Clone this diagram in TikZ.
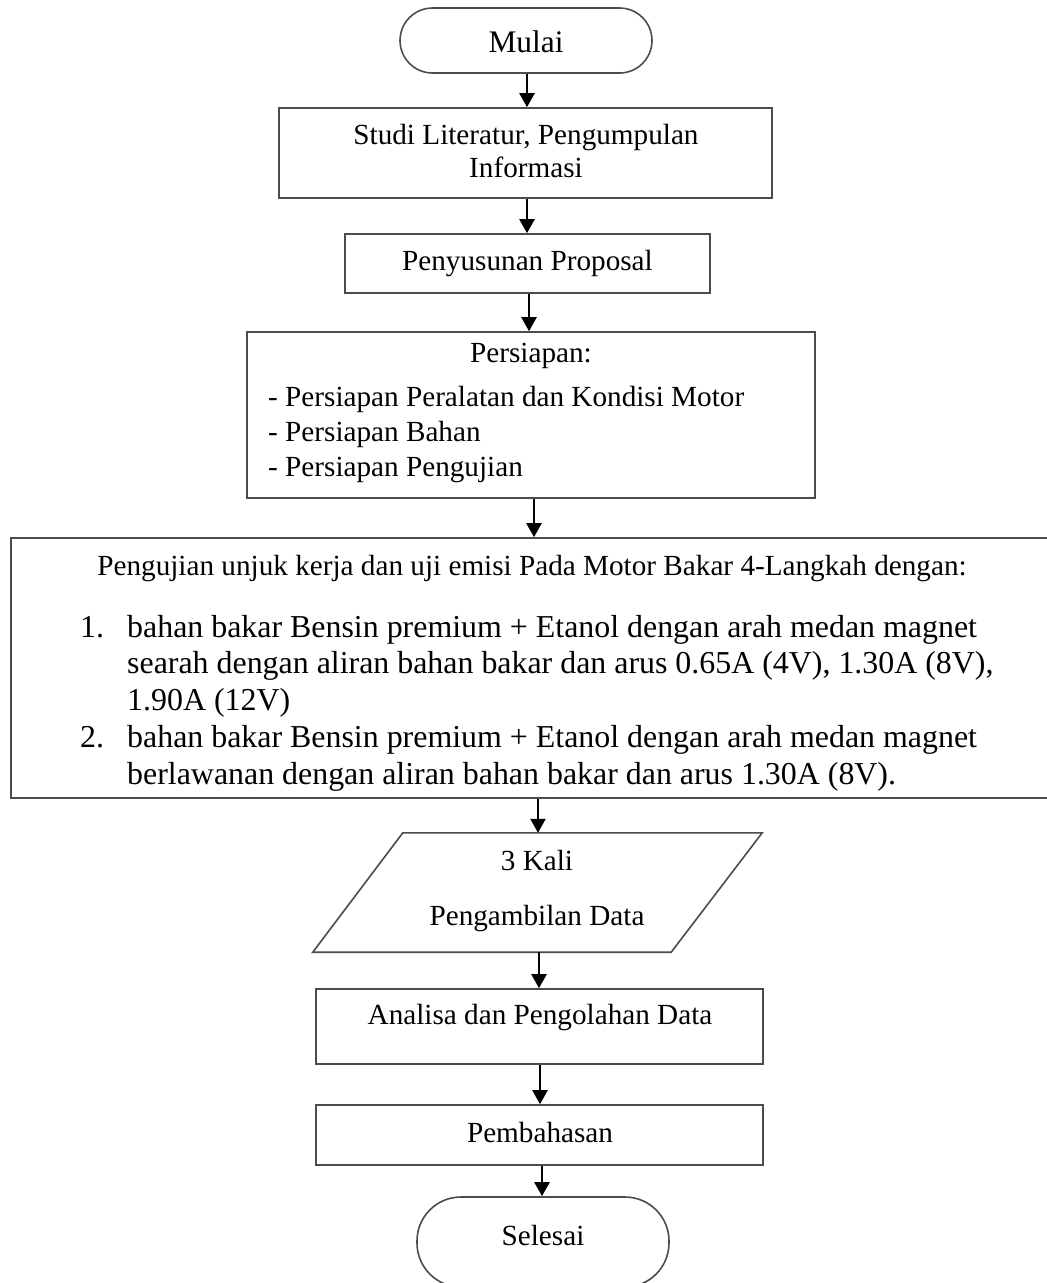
\documentclass[tikz,border=0pt]{standalone}
\usepackage{fontspec}
\setmainfont{Liberation Serif}
\usetikzlibrary{arrows.meta}
\begin{document}
\begin{tikzpicture}[x=1pt,y=-1pt,
  box/.style={draw=black!70, line width=1.6pt, rectangle, inner sep=0pt},
  term/.style={box, minimum width=252pt},
  arr/.style={draw=black, line width=2.2pt, -{Triangle[length=14pt,width=15pt]}},
  txt/.style={inner sep=0pt, anchor=base, font=\fontsize{29.2}{35}\selectfont},
  ltxt/.style={inner sep=0pt, anchor=base west, font=\fontsize{29.2}{35}\selectfont},
  itm/.style={inner sep=0pt, anchor=base west, font=\fontsize{31.9}{37}\selectfont}]
\useasboundingbox (0,0) rectangle (1047,1283);
\fill[white] (0,0) rectangle (1047,1283);
\clip (0,0) rectangle (1047,1283);

% Mulai
\node[term, minimum height=65pt, rounded corners=32.5pt] (mulai) at (526,40.5) {};
\node[txt, font=\fontsize{31.4}{37}\selectfont] (tmulai) at (526,52.5) {Mulai};

% Studi literatur
\node[box, minimum width=493pt, minimum height=90pt] (studi) at (525.5,153) {};
\node[txt] (tstudi1) at (526,144) {Studi Literatur, Pengumpulan};
\node[txt] (tstudi2) at (526,177) {Informasi};

% Proposal
\node[box, minimum width=365pt, minimum height=59pt] (prop) at (527.5,263.5) {};
\node[txt] (tprop) at (527.5,270) {Penyusunan Proposal};

% Persiapan
\node[box, minimum width=568pt, minimum height=166pt] (persiapan) at (531,415) {};
\node[txt] (tpers) at (531,362) {Persiapan:};
\node[ltxt] (tpers1) at (268,406) {- Persiapan Peralatan dan Kondisi Motor};
\node[ltxt] (tpers2) at (268,441) {- Persiapan Bahan};
\node[ltxt] (tpers3) at (268,476) {- Persiapan Pengujian};

% Pengujian
\node[box, minimum width=1060pt, minimum height=260pt] (uji) at (541,668) {};
\node[txt] (tuji) at (532,575) {Pengujian unjuk kerja dan uji emisi Pada Motor Bakar 4-Langkah dengan:};
\node[itm] (num1) at (80,637) {1.};
\node[itm] (it1a) at (127,637) {bahan bakar Bensin premium + Etanol dengan arah medan magnet};
\node[itm] (it1b) at (127,673.7) {searah dengan aliran bahan bakar dan arus 0.65A (4V), 1.30A (8V),};
\node[itm] (it1c) at (127,710.4) {1.90A (12V)};
\node[itm] (num2) at (80,747) {2.};
\node[itm] (it2a) at (127,747) {bahan bakar Bensin premium + Etanol dengan arah medan magnet};
\node[itm] (it2b) at (127,784) {berlawanan dengan aliran bahan bakar dan arus 1.30A (8V).};

% Data (parallelogram)
\node[inner sep=0pt, minimum width=449pt, minimum height=119pt] (data) at (537.5,892.5) {};
\draw[draw=black!70, line width=1.6pt] ([xshift=90pt]data.north west) -- (data.north east)
  -- ([xshift=-91pt]data.south east) -- (data.south west) -- cycle;
\node[txt] (tdata1) at (537,870) {3 Kali};
\node[txt] (tdata2) at (537,925) {Pengambilan Data};

% Analisa
\node[box, minimum width=447pt, minimum height=75pt] (analisa) at (539.5,1026.5) {};
\node[txt] (tanal) at (540,1024) {Analisa dan Pengolahan Data};

% Pembahasan
\node[box, minimum width=447pt, minimum height=60pt] (bahas) at (539.5,1135) {};
\node[txt] (tbahas) at (540,1142) {Pembahasan};

% Selesai
\node[term, minimum height=90pt, rounded corners=44pt] (selesai) at (543,1242) {};
\node[txt] (tsel) at (543,1245) {Selesai};

% arrows
\coordinate (a1) at ([xshift=1pt]mulai.south);
\draw[arr] (a1) -- (a1 |- studi.north);
\coordinate (a2) at ([xshift=1.5pt]studi.south);
\draw[arr] (a2) -- (a2 |- prop.north);
\coordinate (a3) at ([xshift=1.5pt]prop.south);
\draw[arr] (a3) -- (a3 |- persiapan.north);
\coordinate (a4) at ([xshift=3pt]persiapan.south);
\draw[arr] (a4) -- (a4 |- uji.north);
\coordinate (a5) at ([xshift=-3pt]uji.south);
\draw[arr] (a5) -- (a5 |- data.north);
\coordinate (a6) at ([xshift=1.5pt]data.south);
\draw[arr] (a6) -- (a6 |- analisa.north);
\coordinate (a7) at ([xshift=0.5pt]analisa.south);
\draw[arr] (a7) -- (a7 |- bahas.north);
\coordinate (a8) at ([xshift=2.5pt]bahas.south);
\draw[arr] (a8) -- (a8 |- selesai.north);
\end{tikzpicture}
\end{document}
